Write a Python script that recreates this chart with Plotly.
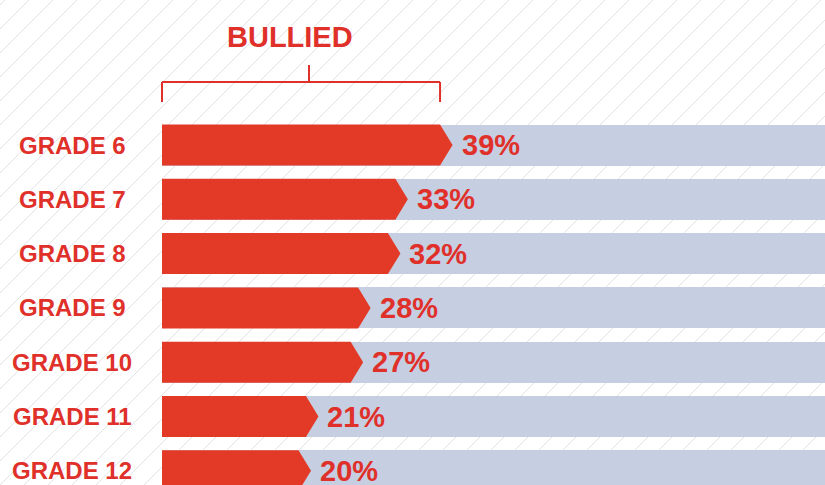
import plotly.graph_objects as go

grades = ["GRADE 6", "GRADE 7", "GRADE 8", "GRADE 9", "GRADE 10", "GRADE 11", "GRADE 12"]
bullied = [39, 33, 32, 28, 27, 21, 20]
total = [100, 100, 100, 100, 100, 100, 100]
pct_labels = ["39%", "33%", "32%", "28%", "27%", "21%", "20%"]
group_title = "BULLIED"

W, H = 825, 485
RED = "#e33a27"
TXT = "#e0302a"
GRAY = "#c6cee2"

px_per_unit = 7.45
x0_px = 162
row_px = 54.3
row0_px = 145
bar_w = 41 / row_px
tip = 12.5 / px_per_unit

x_range = [-x0_px / px_per_unit, (W - x0_px) / px_per_unit]
y_range = [(H - row0_px) / row_px, -row0_px / row_px]

ys = list(range(len(grades)))

fig = go.Figure()

# background gray bars
fig.add_trace(go.Bar(
    y=ys, x=total, base=0, orientation="h", width=bar_w,
    marker=dict(color=GRAY, line=dict(width=0)),
    hoverinfo="skip", showlegend=False,
))

# red arrow bars
for i, v in zip(ys, bullied):
    h = bar_w / 2
    fig.add_trace(go.Scatter(
        x=[0, v - tip, v, v - tip, 0, 0],
        y=[i - h, i - h, i, i + h, i + h, i - h],
        mode="lines", fill="toself", fillcolor=RED,
        line=dict(width=0, color=RED),
        hoverinfo="skip", showlegend=False,
    ))

annotations = []
for i, (v, lab) in enumerate(zip(bullied, pct_labels)):
    annotations.append(dict(
        x=v, y=i, xref="x", yref="y", text=f"<b>{lab}</b>",
        showarrow=False, xanchor="left", yanchor="middle", xshift=7,
        font=dict(family="Liberation Sans", size=29, color=TXT),
    ))
for i, g in enumerate(grades):
    annotations.append(dict(
        x=72 / W, y=i, xref="paper", yref="y", text=f"<b>{g}</b>",
        showarrow=False, xanchor="center", yanchor="middle",
        font=dict(family="Liberation Sans", size=24, color=TXT),
    ))
annotations.append(dict(
    x=290 / W, y=1 - 37 / H, xref="paper", yref="paper", text=f"<b>{group_title}</b>",
    showarrow=False, xanchor="center", yanchor="middle",
    font=dict(family="Liberation Sans", size=29, color=TXT),
))

shapes = []
# hatch background
spacing = 24 / W
slope = H / W
k = -int(slope / spacing) - 2
while k * spacing < 1.05:
    xs = k * spacing
    shapes.append(dict(type="line", xref="paper", yref="paper",
                       x0=xs, y0=0, x1=xs + slope, y1=1,
                       line=dict(color="#e3e3e3", width=1), layer="below"))
    k += 1

# bracket above the bars
br_left = 0
br_right = max(bullied) - tip
yb = 1 - 82 / H
yb_low = 1 - 102 / H
yb_top = 1 - 65 / H
bl = dict(color=TXT, width=2)
shapes.append(dict(type="line", xref="x", yref="paper", x0=br_left, x1=br_right, y0=yb, y1=yb, line=bl))
shapes.append(dict(type="line", xref="x", yref="paper", x0=br_left, x1=br_left, y0=yb, y1=yb_low, line=bl))
shapes.append(dict(type="line", xref="x", yref="paper", x0=br_right, x1=br_right, y0=yb, y1=yb_low, line=bl))
mid = (309 - x0_px) / px_per_unit
shapes.append(dict(type="line", xref="x", yref="paper", x0=mid, x1=mid, y0=yb, y1=yb_top, line=bl))

fig.update_layout(
    width=W, height=H,
    margin=dict(l=0, r=0, t=0, b=0),
    paper_bgcolor="white", plot_bgcolor="rgba(0,0,0,0)",
    xaxis=dict(range=x_range, visible=False, fixedrange=True),
    yaxis=dict(range=y_range, visible=False, fixedrange=True),
    shapes=shapes, annotations=annotations,
    bargap=0, showlegend=False,
)

fig.write_html(
    "out.html",
    config={"displayModeBar": False},
    post_script="document.body.style.margin='0';document.body.style.overflow='hidden';",
)
